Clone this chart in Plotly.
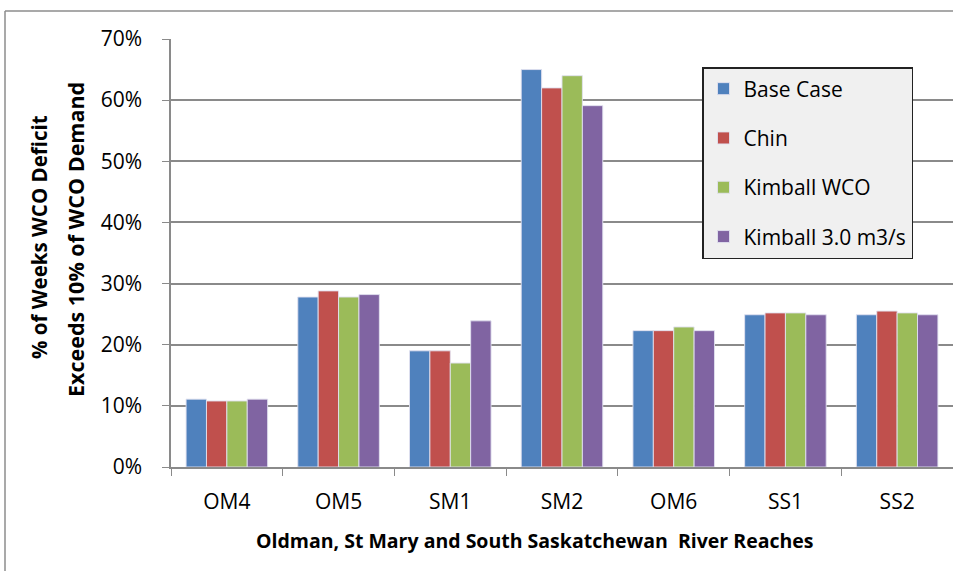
import plotly.graph_objects as go

# Reaches along the Oldman, St Mary and South Saskatchewan rivers
reaches = ["OM4", "OM5", "SM1", "SM2", "OM6", "SS1", "SS2"]

# Share of weeks where the WCO deficit exceeds 10% of WCO demand (%)
base_case = [11.1, 27.8, 19.0, 65.0, 22.3, 24.9, 24.9]
chin = [10.8, 28.8, 19.0, 62.0, 22.3, 25.2, 25.5]
kimball_wco = [10.8, 27.8, 17.0, 64.0, 22.9, 25.2, 25.2]
kimball_3 = [11.1, 28.2, 23.9, 59.1, 22.3, 24.9, 24.9]

series_names = ["Base Case", "Chin", "Kimball WCO", "Kimball 3.0 m3/s"]
series_values = [base_case, chin, kimball_wco, kimball_3]
series_colors = ["#4F81BD", "#C0504D", "#9BBB59", "#8064A2"]

FONT = "Open Sans, Liberation Sans, sans-serif"
AXIS_GRAY = "#8a8a8a"

fig = go.Figure()
for name, vals, col in zip(series_names, series_values, series_colors):
    fig.add_trace(go.Bar(
        x=reaches,
        y=[v / 100 for v in vals],
        name=name,
        legendgroup=name,
        marker=dict(color=col, line=dict(color="rgba(225,225,240,0.9)", width=1)),
    ))

W, H = 953, 571
L, R, T, B = 171, 0, 39, 104
pw, ph = W - L - R, H - T - B


def px_x(x):
    return (x - L) / pw


def px_y(y):
    return (H - B - y) / ph


fig.update_layout(
    width=W,
    height=H,
    margin=dict(l=L, r=R, t=T, b=B),
    paper_bgcolor="white",
    plot_bgcolor="white",
    barmode="group",
    bargap=0.27,
    bargroupgap=0,
    font=dict(family=FONT, size=21, color="#000000"),
    showlegend=True,
    legend=dict(
        x=px_x(702), y=px_y(67), xanchor="left", yanchor="top",
        bgcolor="#f0f0f0", bordercolor="#222222", borderwidth=1.5,
        font=dict(family=FONT, size=21, color="#000000"),
        traceorder="grouped", tracegroupgap=19,
        itemwidth=30,
    ),
    xaxis=dict(
        type="category",
        showline=True, linecolor=AXIS_GRAY, linewidth=1.5,
        ticks="outside", tickson="boundaries", ticklen=7, tickcolor=AXIS_GRAY,
        tickfont=dict(family=FONT, size=21),
        ticklabelstandoff=15,
        showgrid=False,
    ),
    yaxis=dict(
        range=[0, 0.7],
        dtick=0.1,
        tickformat=".0%",
        showline=True, linecolor=AXIS_GRAY, linewidth=1.5,
        ticks="outside", ticklen=7, tickcolor=AXIS_GRAY,
        tickfont=dict(family=FONT, size=21),
        ticklabelstandoff=16,
        showgrid=True, gridcolor=AXIS_GRAY, gridwidth=1.5,
        zeroline=False,
    ),
    shapes=[
        # chart-area frame (left and top edges)
        dict(type="line", xref="paper", yref="paper",
             x0=px_x(5), x1=px_x(5), y0=px_y(H + 5), y1=px_y(11),
             line=dict(color="#8c8c8c", width=1.5)),
        dict(type="line", xref="paper", yref="paper",
             x0=px_x(5), x1=px_x(W + 5), y0=px_y(11), y1=px_y(11),
             line=dict(color="#8c8c8c", width=1.5)),
    ],
    annotations=[
        dict(text="<b>Oldman, St Mary and South Saskatchewan  River Reaches</b>",
             xref="paper", yref="paper", x=px_x(535), y=px_y(540),
             xanchor="center", yanchor="middle", showarrow=False,
             font=dict(family=FONT, size=19.5)),
        dict(text="<b>% of Weeks WCO Deficit</b>",
             xref="paper", yref="paper", x=px_x(39), y=px_y(237),
             xanchor="center", yanchor="middle", showarrow=False, textangle=-90,
             font=dict(family=FONT, size=20.5)),
        dict(text="<b>Exceeds 10% of WCO Demand</b>",
             xref="paper", yref="paper", x=px_x(75), y=px_y(240),
             xanchor="center", yanchor="middle", showarrow=False, textangle=-90,
             font=dict(family=FONT, size=21.5)),
    ],
)

fig.write_html("out.html")
